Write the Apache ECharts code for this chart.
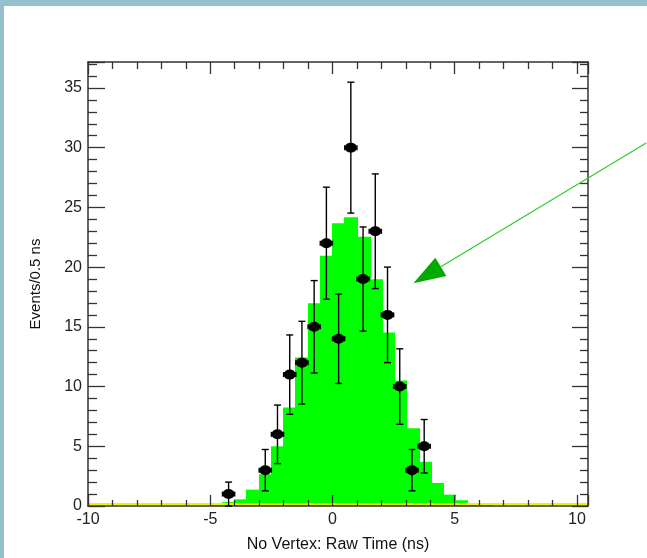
<!DOCTYPE html>
<html>
<head>
<meta charset="utf-8">
<script src="https://cdn.jsdelivr.net/npm/echarts@6/dist/echarts.min.js"></script>
<style>
  html, body { margin: 0; padding: 0; background: #ffffff; }
  #chart { width: 647px; height: 558px; }
</style>
</head>
<body>
<div id="chart"></div>
<script>
// Simulated timing distribution: lower edges of the 0.5 ns bins and expected events per bin
const binLow = [-5.0, -4.5, -4.0, -3.5, -3.0, -2.5, -2.0, -1.5, -1.0, -0.5, 0.0, 0.5,
                1.0, 1.5, 2.0, 2.5, 3.0, 3.5, 4.0, 4.5, 5.0, 5.5, 6.0];
const binCounts = [0.15, 0.33, 0.56, 1.37, 2.66, 5.0, 8.25, 12.44, 16.97, 20.96, 23.67, 24.17,
                   22.55, 18.98, 14.53, 10.5, 6.5, 3.7, 1.93, 0.95, 0.48, 0.25, 0.08];
const binWidth = 0.5;

// Measured events: bin centre (ns), counts and statistical uncertainty on the counts
const dataTime = [-4.25, -2.75, -2.25, -1.75, -1.25, -0.75, -0.25, 0.25, 0.75, 1.25, 1.75, 2.25, 2.75, 3.25, 3.75];
const dataCounts = [1, 3, 6, 11, 12, 15, 22, 14, 30, 19, 23, 16, 10, 3, 5];
const dataErr = [1, 1.73, 2.45, 3.32, 3.46, 3.87, 4.69, 3.74, 5.48, 4.36, 4.8, 4, 3.16, 1.73, 2.24];
const timeErr = 0.25;

// Axis ranges and tick spacing
const xRange = [-10, 10.45];
const yRange = [0, 37.17];
const xStep = 5;
const yStep = 5;

// Annotation arrow, in axis units (tail, tip)
const arrowTail = [12.83, 30.38];
const arrowTip = [3.31, 18.64];

const FONT = "'Liberation Sans', Arial, Helvetica, sans-serif";
const FRAME = '#333333';

const chart = echarts.init(document.getElementById('chart'), null, { renderer: 'canvas' });

const histData = binLow.map((x, i) => [x, binCounts[i]]);
const pointData = dataTime.map((x, i) => [x, dataCounts[i], dataErr[i]]);

function labelFmt(step) {
  return v => (Math.abs(v / step - Math.round(v / step)) < 1e-6 ? String(Math.round(v)) : '');
}

function baseAxis(range, step) {
  return {
    type: 'value',
    min: range[0],
    max: range[1],
    interval: step,
    z: 2,
    splitLine: { show: false },
    axisLine: { show: true, onZero: false, lineStyle: { color: FRAME, width: 1.5 } },
  };
}

const option = {
  backgroundColor: '#ffffff',
  animation: false,
  grid: { left: 88, top: 62, right: 59, bottom: 52, containLabel: false },
  xAxis: [
    Object.assign(baseAxis(xRange, xStep), {
      position: 'bottom',
      name: 'No Vertex: Raw Time (ns)',
      nameLocation: 'middle',
      nameGap: 31,
      nameTextStyle: { fontFamily: FONT, fontSize: 16, color: '#111' },
      axisTick: { show: true, inside: true, length: 11, lineStyle: { color: FRAME, width: 1.3 } },
      minorTick: { show: true, splitNumber: 5, length: 6, lineStyle: { color: FRAME, width: 1.3 } },
      axisLabel: { show: true, margin: 6, fontFamily: FONT, fontSize: 16, color: '#222', formatter: labelFmt(xStep) }
    }),
    Object.assign(baseAxis(xRange, xStep), {
      position: 'top',
      axisTick: { show: true, inside: true, length: 12, lineStyle: { color: FRAME, width: 1.3 } },
      minorTick: { show: true, splitNumber: 5, length: 7, lineStyle: { color: FRAME, width: 1.3 } },
      axisLabel: { show: false }
    })
  ],
  yAxis: [
    Object.assign(baseAxis(yRange, yStep), {
      position: 'left',
      name: 'Events/0.5 ns',
      nameLocation: 'middle',
      nameGap: 45,
      nameRotate: 90,
      nameTextStyle: { fontFamily: FONT, fontSize: 15, color: '#111' },
      axisTick: { show: true, inside: true, length: 17, lineStyle: { color: FRAME, width: 1.3 } },
      minorTick: { show: true, splitNumber: 5, length: 9, lineStyle: { color: FRAME, width: 1.3 } },
      axisLabel: { show: true, margin: 6, fontFamily: FONT, fontSize: 16, color: '#222', formatter: labelFmt(yStep) }
    }),
    Object.assign(baseAxis(yRange, yStep), {
      position: 'right',
      axisTick: { show: true, inside: true, length: 16, lineStyle: { color: FRAME, width: 1.3 } },
      minorTick: { show: true, splitNumber: 5, length: 8, lineStyle: { color: FRAME, width: 1.3 } },
      axisLabel: { show: false }
    })
  ],
  series: [
    {
      // filled step histogram of the simulated distribution
      type: 'custom',
      name: 'simulation',
      xAxisIndex: 0,
      yAxisIndex: 0,
      z: 1,
      data: histData,
      renderItem(params, api) {
        const x0 = api.value(0);
        const v = api.value(1);
        const p1 = api.coord([x0, v]);
        const p2 = api.coord([x0 + binWidth, 0]);
        const left = Math.floor(p1[0]);
        const right = Math.ceil(p2[0]) + 1;
        return {
          type: 'rect',
          shape: { x: left, y: p1[1], width: right - left, height: p2[1] - p1[1] },
          style: { fill: '#00ff00', stroke: null }
        };
      }
    },
    {
      // histogram outline along the zero level
      type: 'custom',
      name: 'baseline',
      xAxisIndex: 0,
      yAxisIndex: 0,
      z: 1.5,
      data: [[xRange[0], 0]],
      renderItem(params, api) {
        const a = api.coord([xRange[0], 0]);
        const b = api.coord([xRange[1], 0]);
        return {
          type: 'line',
          shape: { x1: a[0], y1: a[1] - 2, x2: b[0], y2: b[1] - 2 },
          style: { stroke: '#f2f200', lineWidth: 2 }
        };
      }
    },
    {
      // error bars of the measured counts
      type: 'custom',
      name: 'errors',
      xAxisIndex: 0,
      yAxisIndex: 0,
      z: 3,
      data: pointData,
      renderItem(params, api) {
        const x = api.value(0), y = api.value(1), e = api.value(2);
        const c = api.coord([x, y]);
        const top = api.coord([x, y + e]);
        const bot = api.coord([x, Math.max(0, y - e)]);
        const l = api.coord([x - timeErr, y]);
        const r = api.coord([x + timeErr, y]);
        const cap = 3.5;
        const st = { stroke: '#000', lineWidth: 1.4 };
        return {
          type: 'group',
          children: [
            { type: 'line', shape: { x1: c[0], y1: top[1], x2: c[0], y2: bot[1] }, style: st },
            { type: 'line', shape: { x1: c[0] - cap, y1: top[1], x2: c[0] + cap, y2: top[1] }, style: st },
            { type: 'line', shape: { x1: c[0] - cap, y1: bot[1], x2: c[0] + cap, y2: bot[1] }, style: st },
            { type: 'line', shape: { x1: l[0], y1: c[1], x2: r[0], y2: c[1] }, style: st },
            { type: 'line', shape: { x1: l[0], y1: c[1] - 2.5, x2: l[0], y2: c[1] + 2.5 }, style: st },
            { type: 'line', shape: { x1: r[0], y1: c[1] - 2.5, x2: r[0], y2: c[1] + 2.5 }, style: st }
          ]
        };
      }
    },
    {
      type: 'scatter',
      name: 'data',
      xAxisIndex: 0,
      yAxisIndex: 0,
      z: 4,
      symbol: 'circle',
      symbolSize: [12, 10],
      itemStyle: { color: '#000000', opacity: 1 },
      emphasis: { disabled: true },
      data: pointData.map(p => [p[0], p[1]])
    }
  ]
};

chart.setOption(option);

// Page band decoration and the annotation arrow, placed through the grid's coordinate system
const tipPx = chart.convertToPixel({ gridIndex: 0 }, arrowTip);
const tailPx = chart.convertToPixel({ gridIndex: 0 }, arrowTail);
const dx = tailPx[0] - tipPx[0], dy = tailPx[1] - tipPx[1];
const len = Math.sqrt(dx * dx + dy * dy);
const ux = dx / len, uy = dy / len;
const headLen = 32, headHalf = 10.7;
const base = [tipPx[0] + ux * headLen, tipPx[1] + uy * headLen];
const c1 = [base[0] - uy * headHalf, base[1] + ux * headHalf];
const c2 = [base[0] + uy * headHalf, base[1] - ux * headHalf];

chart.setOption({
  graphic: [
    { type: 'rect', left: 0, top: 0, z: 100, shape: { width: 647, height: 6 }, style: { fill: '#97c0cf' } },
    { type: 'rect', left: 0, top: 0, z: 100, shape: { width: 4, height: 558 }, style: { fill: '#97c0cf' } },
    {
      type: 'line', z: 50,
      shape: { x1: tailPx[0], y1: tailPx[1], x2: base[0], y2: base[1] },
      style: { stroke: '#2ecc2e', lineWidth: 1.2 }
    },
    {
      type: 'polygon', z: 51,
      shape: { points: [tipPx, c1, c2] },
      style: { fill: '#00aa00' }
    }
  ]
});
</script>
</body>
</html>
